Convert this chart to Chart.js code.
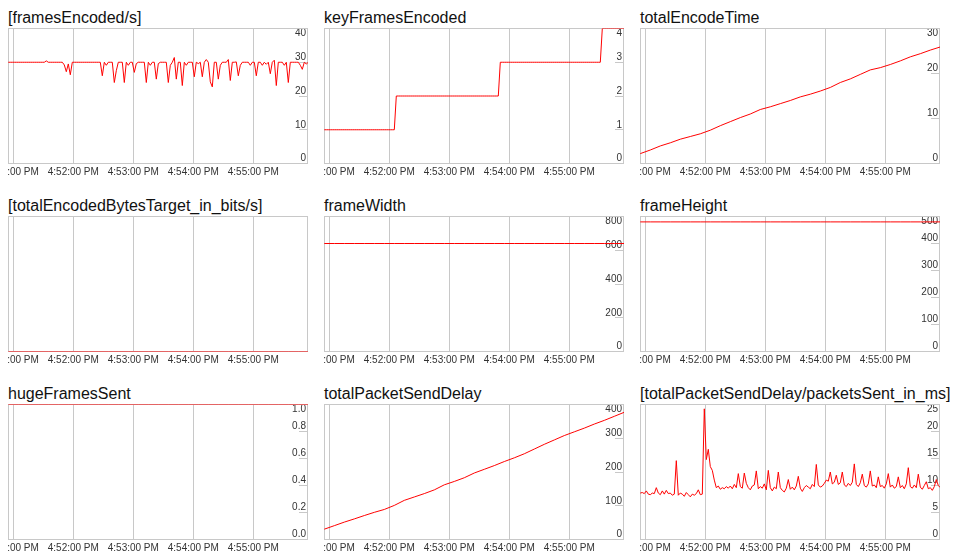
<!DOCTYPE html>
<html>
<head>
<meta charset="utf-8">
<script src="https://cdn.jsdelivr.net/npm/chart.js@4.4.1/dist/chart.umd.min.js"></script>
<style>
	body { margin: 0; background: #fff; width: 953px; height: 560px; position: relative; overflow: hidden; font-family: "Liberation Sans", Arial, sans-serif; }
	.title { position: absolute; font-size: 16px; line-height: 18px; color: #111; white-space: nowrap; }
	canvas { position: absolute; }
</style>
</head>
<body>
<script>
// time window shown on every graph, and the labelled minutes
var viewStart = '4:50:54.7 PM';
var viewEnd = '4:55:54.7 PM';
var tickTimes = ['4:51:00 PM', '4:52:00 PM', '4:53:00 PM', '4:54:00 PM', '4:55:00 PM'];

// samples start here; fast series every 2 s, slow ones every 10 s
var sampleStart = '4:50:55 PM';
var FAST_STEP = 2;
var SLOW_STEP = 10;

var titles = ['[framesEncoded/s]', 'keyFramesEncoded', 'totalEncodeTime',
	'[totalEncodedBytesTarget_in_bits/s]', 'frameWidth', 'frameHeight',
	'hugeFramesSent', 'totalPacketSendDelay', '[totalPacketSendDelay/packetsSent_in_ms]'];

var yMax = [40, 4, 30, 1, 800, 500, 1, 400, 25];
var yStep = [10, 1, 10, 1, 200, 100, 0.2, 100, 5];
var yDecimals = [0, 0, 0, 0, 0, 0, 1, 0, 0];

var framesEncodedPerSec = [
	30,30,30,30,30,30,30,30,30,30,
	30,30,30,30,30,30,30,30,30,30.4,
	30,30,30,30,30,30,30,30,29.2,27.2,
	29.5,26.3,30,30,30,30,30,30,30,30,
	30,30,30,30,30,30,30,26,30,29.1,
	30,30,30,24,27.5,30,30,30,24,30,
	29.1,30,30,27,29.6,30,30,30,30,24,
	30,29.1,30,30,25,29.6,30,30,30,30,
	24,29.1,30,31.4,25,30,30,23.1,30,29.1,
	30,30,30,25.7,30,29.6,30,25.7,30,30.8,
	30,24.2,22.7,30,30,25,29.1,30,30,30,
	30.8,24.6,30,30,30.1,26,29.1,30,30,30,
	30,29.1,30,30,26,30,30,29.1,30,29.4,
	30,26.6,30,30.6,23.1,30,30,30,29.1,30,
	24,30,30,30,30,30,29.1,27.9,30,29.5,
	30];

var keyFramesEncoded = [
	1,1,1,1,1,1,1,1,1,1,
	1,1,1,1,1,1,1,1,1,1,
	1,1,1,1,1,1,1,1,1,1,
	1,1,1,1,1,1,2,2,2,2,
	2,2,2,2,2,2,2,2,2,2,
	2,2,2,2,2,2,2,2,2,2,
	2,2,2,2,2,2,2,2,2,2,
	2,2,2,2,2,2,2,2,2,2,
	2,2,2,2,2,2,2,2,3,3,
	3,3,3,3,3,3,3,3,3,3,
	3,3,3,3,3,3,3,3,3,3,
	3,3,3,3,3,3,3,3,3,3,
	3,3,3,3,3,3,3,3,3,3,
	3,3,3,3,3,3,3,3,3,4,
	4,4,4,4,4,4,4,4,4,4,
	4];

var totalEncodeTime = [2.2,3.0,3.9,4.6,5.4,6.0,6.6,7.4,8.4,9.3,10.2,11.0,12.0,12.6,13.3,14.0,
	14.8,15.4,16.1,16.9,18.0,18.8,19.8,20.8,21.3,22.0,22.8,23.7,24.4,25.2,25.9];

var totalEncodedBytesTarget = [0,0,0,0,0,0,0,0,0,0,0,0,0,0,0,0,0,0,0,0,0,0,0,0,0,0,0,0,0,0,0];

var frameWidth = [640,640,640,640,640,640,640,640,640,640,640,640,640,640,640,640,
	640,640,640,640,640,640,640,640,640,640,640,640,640,640,640];

var frameHeight = [480,480,480,480,480,480,480,480,480,480,480,480,480,480,480,480,
	480,480,480,480,480,480,480,480,480,480,480,480,480,480,480];

var hugeFramesSent = [1,1,1,1,1,1,1,1,1,1,1,1,1,1,1,1,1,1,1,1,1,1,1,1,1,1,1,1,1,1,1];

var totalPacketSendDelay = [30.6,41,51.5,61,71,80.5,89,101,116,126,136,147,162,172,183,197,
	208,219,231,242,254,268,282,295,308,319,330,342,353,365,377];

var packetSendDelayPerPacket = [
	8.6,8.7,8.5,9.0,8.4,8.3,8.6,8.5,9.6,8.6,
	8.3,9.0,8.4,9.1,8.5,8.6,8.2,8.4,14.6,8.2,
	8.6,8.4,8.0,8.7,8.3,7.9,8.4,8.2,8.5,9.2,
	8.3,8.4,24.2,14.8,16.7,13.5,12.8,11.0,9.6,9.9,
	9.3,9.6,9.4,9.8,9.5,9.9,9.4,10.2,9.6,12.2,
	9.8,9.5,12.3,10.4,9.6,9.2,9.9,10.1,12.7,9.4,
	9.8,9.5,10.3,9.2,12.8,9.6,9.0,9.7,9.4,12.5,
	9.6,9.1,8.8,9.5,11.1,9.3,9.7,9.2,9.9,11.7,
	9.5,8.9,9.6,10.0,9.7,9.4,10.2,9.8,13.9,10.1,
	9.7,9.9,10.4,11.0,10.8,12.5,10.3,10.6,11.9,10.2,
	10.5,12.5,10.1,9.8,10.4,10.0,10.6,14.0,10.2,9.8,
	10.5,12.1,10.0,9.7,10.3,12.7,9.9,10.1,9.6,11.6,
	9.8,10.0,9.5,10.3,12.2,9.7,10.1,9.5,9.8,11.6,
	9.6,10.0,9.4,10.3,13.3,9.8,9.5,10.1,9.6,12.1,
	9.7,9.3,10.0,10.7,9.4,9.6,9.1,9.8,11.1,10.0,
	9.6];

var seriesValues = [framesEncodedPerSec, keyFramesEncoded, totalEncodeTime,
	totalEncodedBytesTarget, frameWidth, frameHeight,
	hugeFramesSent, totalPacketSendDelay, packetSendDelayPerPacket];
var seriesSteps = [FAST_STEP, FAST_STEP, SLOW_STEP, SLOW_STEP, SLOW_STEP, SLOW_STEP,
	SLOW_STEP, SLOW_STEP, FAST_STEP];

var Graphs = {

	font: '"Liberation Sans", Arial, sans-serif',

	init: function(){
		for (var i = 0; i < titles.length; i++) {
			Graphs.makeGraph(i);
		}
	},

	toSeconds: function(label){
		var m = label.match(/(\d+):(\d+):([\d.]+) (AM|PM)/);
		var h = (+m[1] % 12) + (m[4] === 'PM' ? 12 : 0);
		return h * 3600 + (+m[2]) * 60 + (+m[3]);
	},

	buildPoints: function(values, step){
		var t0 = Graphs.toSeconds(sampleStart);
		return values.map(function(v, i){
			return { x: t0 + i * step, y: v };
		});
	},

	// labels may run off the canvas edge (the first time label is cut), so no extra padding
	noPadding: function(scale){
		scale.paddingLeft = 0;
		scale.paddingRight = 0;
		scale.paddingTop = 0;
		scale.paddingBottom = 0;
	},

	// grey box round the plot, under the data line
	frameBox: {
		id: 'frameBox',
		beforeDatasetsDraw: function(chart){
			var a = chart.chartArea, ctx = chart.ctx;
			var l = Math.round(a.left), r = Math.round(a.right);
			ctx.save();
			ctx.strokeStyle = '#c8c8c8';
			ctx.lineWidth = 1;
			ctx.strokeRect(l + 0.5, a.top, r - l - 1, a.bottom - a.top);
			ctx.restore();
		}
	},

	makeGraph: function(i){
		var col = i % 3, row = Math.floor(i / 3);
		var left = 8 + col * 316, top = row * 188;

		var title = document.createElement('div');
		title.className = 'title';
		title.style.left = left + 'px';
		title.style.top = (top + 9) + 'px';
		title.textContent = titles[i];
		document.body.appendChild(title);

		var canvas = document.createElement('canvas');
		canvas.width = 313;
		canvas.height = 154;
		canvas.style.left = left + 'px';
		canvas.style.top = (top + 28) + 'px';
		document.body.appendChild(canvas);

		var tickSeconds = tickTimes.map(Graphs.toSeconds);
		var hasLabels = yMax[i] !== 1 || yStep[i] !== 1;

		new Chart(canvas.getContext('2d'), {
			type: 'line',
			data: {
				datasets: [{
					data: Graphs.buildPoints(seriesValues[i], seriesSteps[i]),
					borderColor: '#ff0000',
					borderWidth: 1,
					pointRadius: 0,
					fill: false,
					tension: 0
				}]
			},
			options: {
				responsive: false,
				animation: false,
				events: [],
				layout: { autoPadding: false, padding: { top: 0.5, bottom: 0.5, left: 0, right: 0 } },
				plugins: { legend: { display: false }, tooltip: { enabled: false } },
				scales: {
					x: {
						type: 'linear',
						min: Graphs.toSeconds(viewStart),
						max: Graphs.toSeconds(viewEnd),
						afterBuildTicks: function(scale){
							scale.ticks = tickSeconds.map(function(v){ return { value: v }; });
						},
						afterFit: Graphs.noPadding,
						grid: { color: '#c8c8c8', drawTicks: false },
						border: { display: false },
						ticks: {
							autoSkip: false,
							maxRotation: 0,
							minRotation: 0,
							padding: 3,
							color: '#333',
							font: { family: Graphs.font, size: 10 },
							callback: function(value, index){ return tickTimes[index]; }
						}
					},
					y: {
						position: 'right',
						min: 0,
						max: yMax[i],
						afterFit: function(scale){
							Graphs.noPadding(scale);
							scale.width = 13;
						},
						grid: { drawOnChartArea: false, drawTicks: hasLabels, tickLength: -9, color: '#c8c8c8' },
						border: { display: false },
						ticks: {
							display: hasLabels,
							stepSize: yStep[i],
							mirror: true,
							padding: -2,
							color: '#333',
							font: { family: Graphs.font, size: 10, lineHeight: 1 },
							// top label sits under its line, the others above theirs
							callback: function(value, index, ticks){
								var txt = Number(value).toFixed(yDecimals[i]);
								return index === ticks.length - 1 ? ['', txt] : [txt, ''];
							}
						}
					}
				}
			},
			plugins: [Graphs.frameBox]
		});
	}
};

Graphs.init();
</script>
</body>
</html>
